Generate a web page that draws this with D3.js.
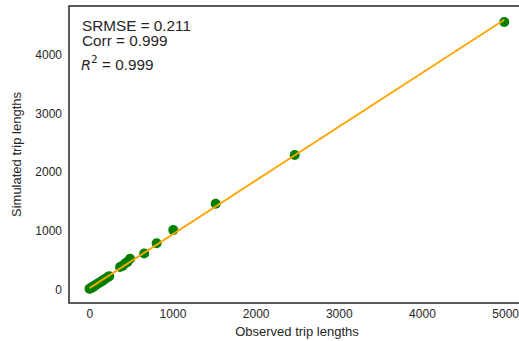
<!DOCTYPE html>
<html>
<head>
<meta charset="utf-8">
<script src="https://cdn.jsdelivr.net/npm/d3@7"></script>
<style>
  html, body { margin: 0; padding: 0; background: #fff; }
  svg { display: block; }
  text { font-family: "Liberation Sans", Arial, sans-serif; fill: #262626; }
</style>
</head>
<body>
<div id="chart"></div>
<script>
// Observed vs simulated trip lengths
const observed  = [3, 10, 18, 27, 36, 48, 60, 75, 90, 105, 120, 140, 160, 180, 200, 225, 240,
                   370, 400, 430, 460, 490, 660, 810, 1010, 1520, 2470, 4990];
const simulated = [8, 12, 20, 27, 35, 46, 57, 70, 88, 100, 112, 128, 148, 168, 185, 210, 222,
                   380, 400, 440, 468, 520, 610, 785, 1010, 1460, 2290, 4560];
const xTicks = [0, 1000, 2000, 3000, 4000, 5000];
const yTicks = [0, 1000, 2000, 3000, 4000];
const statLines = ["SRMSE = 0.211", "Corr = 0.999"];
const r2Value = "0.999";

const W = 519, H = 341;
const plot = { left: 69, right: 525, top: 6, bottom: 303 };

const svg = d3.select("#chart").append("svg")
  .attr("width", W).attr("height", H);

const x = d3.scaleLinear().domain([-244, 5239]).range([plot.left, plot.right]);
const y = d3.scaleLinear().domain([-234, 4834]).range([plot.bottom, plot.top]);

// Least-squares fit of simulated on observed
const n = observed.length;
const mx = d3.mean(observed), my = d3.mean(simulated);
let sxy = 0, sxx = 0;
for (let i = 0; i < n; i++) {
  sxy += (observed[i] - mx) * (simulated[i] - my);
  sxx += (observed[i] - mx) ** 2;
}
const slope = sxy / sxx, intercept = my - slope * mx;
const xMin = d3.min(observed), xMax = d3.max(observed);

// Scatter points
svg.append("g").selectAll("circle")
  .data(observed.map((o, i) => [o, simulated[i]]))
  .join("circle")
  .attr("cx", d => x(d[0]))
  .attr("cy", d => y(d[1]))
  .attr("r", 5)
  .attr("fill", "#008000");

// Fitted line
svg.append("line")
  .attr("x1", x(xMin)).attr("y1", y(slope * xMin + intercept))
  .attr("x2", x(xMax)).attr("y2", y(slope * xMax + intercept))
  .attr("stroke", "#FFA500").attr("stroke-width", 1.9);

// Axes (labels only, no tick marks)
const xAxis = svg.append("g")
  .attr("transform", `translate(0,${plot.bottom})`)
  .call(d3.axisBottom(x).tickValues(xTicks).tickSize(0).tickPadding(6).tickFormat(d3.format("d")));
const yAxis = svg.append("g")
  .attr("transform", `translate(${plot.left},0)`)
  .call(d3.axisLeft(y).tickValues(yTicks).tickSize(0).tickPadding(7).tickFormat(d3.format("d")));
[xAxis, yAxis].forEach(g => {
  g.select(".domain").remove();
  g.selectAll("text").attr("font-size", 12).attr("fill", "#333")
    .attr("font-family", "'Liberation Sans', Arial, sans-serif");
});

// Frame
svg.append("rect")
  .attr("x", plot.left).attr("y", plot.top)
  .attr("width", plot.right - plot.left).attr("height", plot.bottom - plot.top)
  .attr("fill", "none").attr("stroke", "#262626").attr("stroke-width", 1.5);

// Axis titles
svg.append("text")
  .attr("x", (plot.left + plot.right) / 2).attr("y", 336)
  .attr("text-anchor", "middle").attr("font-size", 13)
  .text("Observed trip lengths");
svg.append("text")
  .attr("transform", `translate(21,${(plot.top + plot.bottom) / 2}) rotate(-90)`)
  .attr("text-anchor", "middle").attr("font-size", 13)
  .text("Simulated trip lengths");

// Statistics annotation
statLines.forEach((s, i) => {
  svg.append("text")
    .attr("x", 82).attr("y", 30.5 + i * 15.3)
    .attr("font-size", 15.3)
    .text(s);
});
const r2 = svg.append("text").attr("x", 81).attr("y", 69.5).attr("font-size", 15.3);
r2.append("tspan").attr("font-family", "'DejaVu Sans', sans-serif")
  .attr("font-style", "italic").attr("font-size", 14.5).text("R");
r2.append("tspan").attr("font-family", "'DejaVu Sans', sans-serif")
  .attr("font-size", 10.5).attr("dy", -6.5).text("2");
r2.append("tspan").attr("dy", 6.5).text(" = " + r2Value);
</script>
</body>
</html>
